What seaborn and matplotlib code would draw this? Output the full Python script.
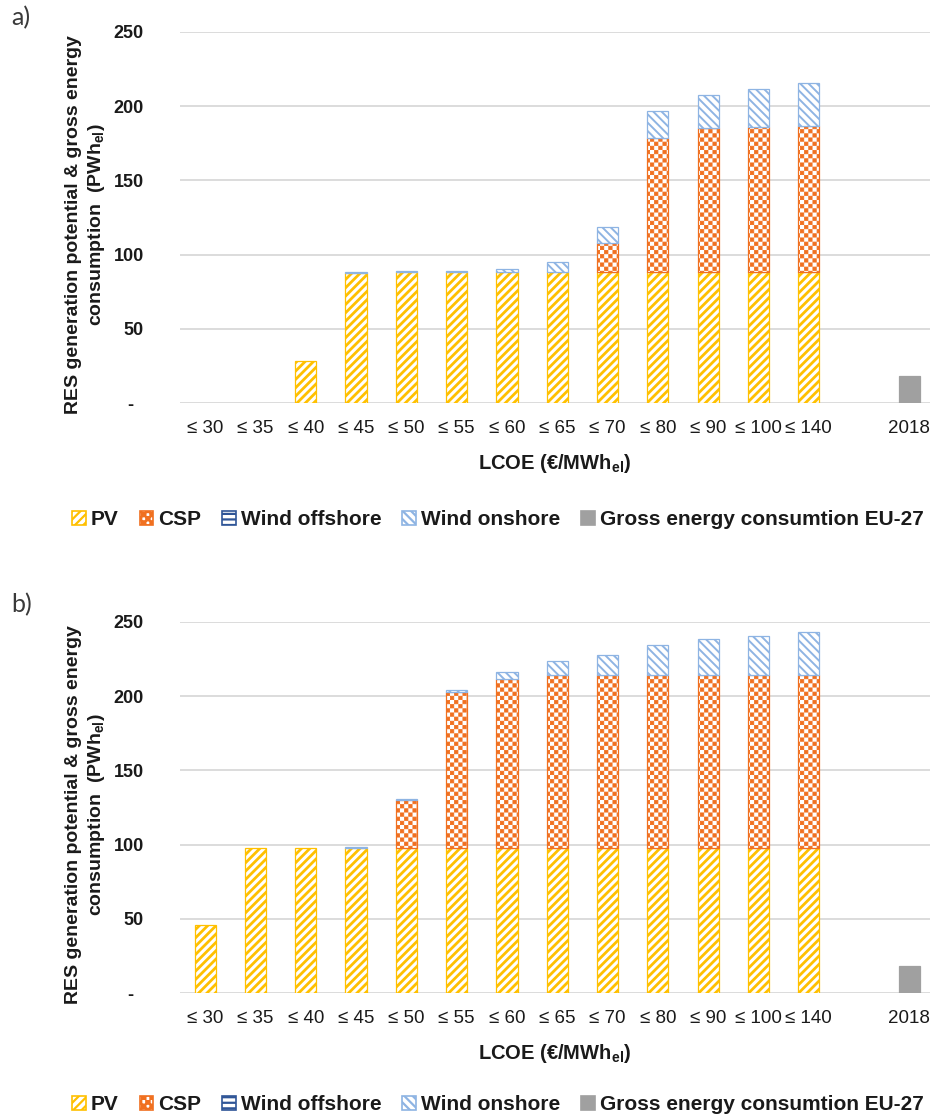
import numpy as np
import pandas as pd
import matplotlib
matplotlib.use("Agg")
import matplotlib.pyplot as plt
import matplotlib.hatch as mhatch
from matplotlib.path import Path
from matplotlib.patches import Patch
import seaborn as sns

# ---------------------------------------------------------------- data
categories = ["≤ 30", "≤ 35", "≤ 40", "≤ 45", "≤ 50", "≤ 55", "≤ 60",
              "≤ 65", "≤ 70", "≤ 80", "≤ 90", "≤ 100", "≤ 140"]
year_label = "2018"
y_ticks = [0, 50, 100, 150, 200, 250]
y_tick_labels = ["-  ", "50", "100", "150", "200", "250"]
series_names = ["PV", "CSP", "Wind offshore", "Wind onshore",
                "Gross energy consumtion EU-27"]

# scenario a)
pv_a = [0, 0, 28, 87.5, 88, 88, 88, 88, 88, 88, 88, 88, 88]
csp_a = [0, 0, 0, 0, 0, 0, 0, 0, 19.5, 90.5, 97, 98, 98.5]
offshore_a = [0, 0, 0, 0, 0, 0, 0, 0, 0, 0, 0, 0, 0]
onshore_a = [0, 0, 0, 0.5, 0.7, 1, 2.5, 7, 11.3, 18.3, 22.5, 25.4, 28.9]
gross_a = 18.2

# scenario b)
pv_b = [46, 98, 98, 98, 98, 98, 98, 98, 98, 98, 98, 98, 98]
csp_b = [0, 0, 0, 0, 32, 105, 113.5, 116, 116, 116, 116, 116, 116]
offshore_b = [0, 0, 0, 0, 0, 0, 0, 0, 0, 0, 0, 0, 0]
onshore_b = [0, 0, 0, 0.7, 1, 1.2, 4.8, 9.5, 14, 20.8, 24.6, 26.4, 29.3]
gross_b = 18.0

# ---------------------------------------------------------------- style
PV_COLOR = "#FFC000"
CSP_COLOR = "#F07020"
OFFSHORE_COLOR = "#2F5597"
ONSHORE_COLOR = "#8EB4E3"
GROSS_COLOR = "#A0A0A0"
GRID_COLOR = "#D9D9D9"
TEXT_COLOR = "#1a1a1a"

sns.set_theme(style="white")
plt.rcParams["mathtext.default"] = "regular"

CHECKER_LW = 0.6            # points
STRIPE_LW = {"PV": 2.0, "CSP": CHECKER_LW, "offshore": 1.5, "onshore": 1.4}


class CheckerHatch(mhatch.HatchPatternBase):
    """Filled checkerboard squares; every 'O' adds four cells per inch."""

    def __init__(self, hatch, density):
        self.num_cells = hatch.count("O") * 4
        self.num_vertices = 2 * self.num_cells ** 2 * 5

    def set_vertices_and_codes(self, vertices, codes):
        n = self.num_cells
        half = 1.0 / (2 * n)
        stroke = CHECKER_LW * 100 / 72 / 100.0
        side = max(half - stroke, 0.002)
        pad = (half - side) / 2
        square = np.array([[0, 0], [side, 0], [side, side], [0, side], [0, 0]]) + pad
        square_codes = [Path.MOVETO, Path.LINETO, Path.LINETO, Path.LINETO,
                        Path.CLOSEPOLY]
        parts = []
        for i in range(n):
            for j in range(n):
                parts.append(square + [i / n, j / n])
                parts.append(square + [i / n + half, j / n + half])
        vertices[:] = np.concatenate(parts)
        codes[:] = np.tile(square_codes, 2 * n * n)


mhatch._hatch_types = [t for t in mhatch._hatch_types
                       if t is not mhatch.LargeCircles] + [CheckerHatch]

ARIAL = ["Liberation Sans", "DejaVu Sans"]

axis_order = categories + [" ", year_label]
BAR_WIDTH = 0.42

layer_styles = [
    ("PV", PV_COLOR, "////"),
    ("CSP", CSP_COLOR, "OOO"),
    ("offshore", OFFSHORE_COLOR, "---"),
    ("onshore", ONSHORE_COLOR, "\\\\\\\\"),
]


def set_hatch_lw(patches, lw):
    for p in patches:
        if hasattr(p, "set_hatch_linewidth"):
            p.set_hatch_linewidth(lw)


def draw_panel(ax, pv, csp, offshore, onshore, gross):
    bottom = np.zeros(len(categories))
    cats = np.array(categories)
    for values, (key, color, hatch) in zip([pv, csp, offshore, onshore], layer_styles):
        values = np.asarray(values, dtype=float)
        mask = values > 0
        if mask.any():
            plt.rcParams["hatch.linewidth"] = STRIPE_LW[key]
            n_before = len(ax.patches)
            frame = pd.DataFrame({"lcoe": cats[mask], "value": values[mask]})
            sns.barplot(data=frame, x="lcoe", y="value", order=axis_order,
                        width=BAR_WIDTH, errorbar=None, saturation=1,
                        color=color, facecolor="white", edgecolor=color,
                        hatch=hatch, linewidth=0.9, bottom=bottom[mask], ax=ax)
            set_hatch_lw(ax.patches[n_before:], STRIPE_LW[key])
        bottom = bottom + values

    year_frame = pd.DataFrame({"lcoe": [year_label], "value": [gross]})
    sns.barplot(data=year_frame, x="lcoe", y="value", order=axis_order,
                width=BAR_WIDTH, errorbar=None, saturation=1,
                color=GROSS_COLOR, edgecolor=GROSS_COLOR, linewidth=0.9, ax=ax)

    ax.set_xlim(-0.5, 14.41)
    ax.set_ylim(0, 250)
    ax.set_yticks(y_ticks)
    ax.set_yticklabels(y_tick_labels, fontfamily=ARIAL, fontweight="bold",
                       fontsize=13, color=TEXT_COLOR)
    for lbl in ax.get_xticklabels():
        lbl.set_fontfamily(ARIAL)
        lbl.set_fontsize(13.5)
        lbl.set_color(TEXT_COLOR)
    ax.tick_params(axis="y", length=0, pad=26)
    ax.tick_params(axis="x", length=0, pad=12)
    ax.set_axisbelow(True)
    ax.yaxis.grid(True, color=GRID_COLOR, linewidth=1.3)
    ax.xaxis.grid(False)
    for spine in ax.spines.values():
        spine.set_visible(False)

    ax.set_xlabel("LCOE (€/MWh$_{el}$)", fontfamily=ARIAL, fontweight="bold",
                  fontsize=14.5, color=TEXT_COLOR, labelpad=11)
    ax.set_ylabel("RES generation potential & gross energy\nconsumption  (PWh$_{el}$)",
                  fontfamily=ARIAL, fontweight="bold", fontsize=14,
                  color=TEXT_COLOR, linespacing=1.25)
    ax.yaxis.set_label_coords(-0.097, 0.48)


fig = plt.figure(figsize=(9.3, 11.18), dpi=100)
ax_a = fig.add_axes([180 / 930, 1 - 403 / 1118, 750 / 930, 371 / 1118])
ax_b = fig.add_axes([180 / 930, 1 - 993 / 1118, 750 / 930, 371 / 1118])

draw_panel(ax_a, pv_a, csp_a, offshore_a, onshore_a, gross_a)
draw_panel(ax_b, pv_b, csp_b, offshore_b, onshore_b, gross_b)

for label, y_px in (("a)", 18), ("b)", 605)):
    fig.text(11 / 930, 1 - y_px / 1118, label, fontfamily=["Lato", "DejaVu Sans"],
             fontsize=18, color="#3a3a3a", va="center")

plt.rcParams["hatch.linewidth"] = 1.6
legend_handles = [
    Patch(facecolor="white", edgecolor=PV_COLOR, hatch="////", linewidth=1.2),
    Patch(facecolor="white", edgecolor=CSP_COLOR, hatch="OOO", linewidth=1.2),
    Patch(facecolor="white", edgecolor=OFFSHORE_COLOR, hatch="---", linewidth=1.2),
    Patch(facecolor="white", edgecolor=ONSHORE_COLOR, hatch="\\\\\\\\", linewidth=1.2),
    Patch(facecolor=GROSS_COLOR, edgecolor=GROSS_COLOR, linewidth=1.2),
]
legend_font = {"family": ARIAL, "weight": "bold", "size": 15}
for y_px in (520, 1105):
    fig.legend(legend_handles, series_names, loc="center",
               bbox_to_anchor=(498 / 930, 1 - y_px / 1118), ncol=5,
               frameon=False, prop=legend_font, handlelength=0.65,
               handleheight=0.65, handletextpad=0.25, columnspacing=1.0,
               labelcolor=TEXT_COLOR)

fig.savefig("out.png", dpi=100)
